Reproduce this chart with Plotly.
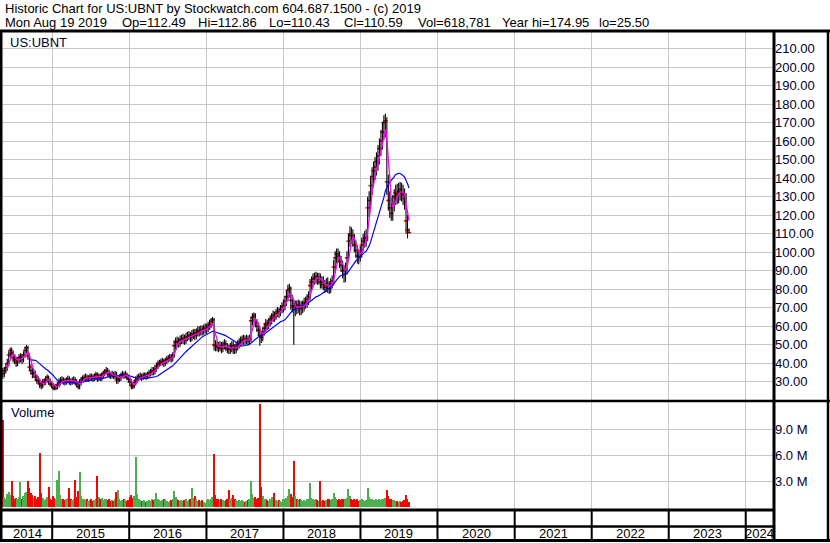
import pandas as pd
import plotly.graph_objects as go

W, H = 830, 543

# weekly bars, Mondays 2014-05-12 .. 2019-08-19
dates = pd.date_range("2014-05-12", "2019-08-19", freq="7D")

close_2014 = [34.5, 36.0, 37.5, 40.0, 44.5, 47.0, 45.5, 43.0, 42.0, 40.5, 41.5, 43.0, 43.5, 42.0, 44.5, 47.0, 48.5,
              44.0, 38.0, 36.0, 34.5, 35.0, 32.5, 31.0, 30.5, 29.0, 28.0, 29.5, 30.0, 31.0, 32.5, 30.5, 29.0, 28.5]
high_2014 = [37.5, 38.0, 40.0, 42.5, 46.5, 48.5, 48.5, 47.0, 45.0, 43.5, 43.5, 45.0, 45.5, 45.0, 46.5, 49.0, 50.0,
             49.5, 45.5, 39.5, 37.5, 37.0, 36.0, 34.0, 33.0, 32.0, 30.5, 31.5, 32.0, 33.0, 34.0, 33.5, 32.0, 30.5]
low_2014 = [31.5, 32.5, 34.5, 36.0, 38.5, 43.0, 43.0, 40.5, 39.5, 38.0, 38.5, 40.0, 40.5, 39.5, 40.5, 43.0, 45.5,
            42.0, 36.0, 34.0, 32.0, 32.5, 30.5, 29.0, 28.5, 26.5, 26.0, 26.5, 28.0, 28.5, 29.5, 28.5, 27.5, 26.5]
vol_2014 = [10.1, 1.2, 0.9, 1.5, 1.8, 1.4, 3.0, 1.3, 1.0, 1.1, 0.9, 1.2, 2.9, 1.0, 1.3, 1.6, 1.8,
            3.0, 2.2, 1.7, 1.4, 1.1, 1.3, 1.0, 1.2, 6.3, 1.6, 1.1, 0.8, 1.0, 1.2, 2.3, 0.9, 0.8]

close_2015 = [27.0, 26.5, 27.5, 28.5, 29.5, 30.5, 31.0, 30.5, 30.0, 31.0, 31.5, 30.5, 30.0, 30.5, 31.0, 30.0, 29.0,
              27.5, 29.5, 31.0, 32.0, 32.0, 32.5, 31.5, 32.0, 33.0, 32.5, 32.0, 33.0, 34.0, 32.0, 33.0, 32.5, 33.5,
              34.5, 35.5, 36.0, 35.0, 34.0, 33.5, 34.0, 33.0, 34.0, 31.0, 31.5, 32.0, 33.5, 34.0, 33.5, 34.0, 32.5, 31.5]
high_2015 = [29.5, 28.5, 29.0, 30.0, 32.0, 32.5, 33.0, 32.5, 32.0, 32.5, 33.5, 33.0, 32.0, 32.5, 33.0, 32.5, 31.5,
             30.5, 31.5, 32.5, 33.5, 34.0, 34.5, 34.0, 33.5, 34.5, 34.5, 34.0, 34.5, 35.5, 35.0, 34.5, 34.5, 35.0,
             36.0, 37.0, 38.0, 37.5, 36.5, 35.5, 36.0, 35.5, 36.0, 35.5, 33.5, 34.0, 35.0, 36.0, 35.5, 36.0, 35.0, 34.0]
low_2015 = [25.5, 25.5, 25.5, 26.0, 27.0, 28.0, 29.0, 28.5, 28.0, 28.5, 29.5, 28.5, 28.0, 28.5, 29.0, 28.0, 27.0,
            26.0, 26.0, 28.0, 29.5, 30.0, 30.5, 30.0, 30.0, 30.5, 30.5, 30.0, 30.5, 31.5, 30.0, 30.5, 30.5, 30.5,
            32.0, 33.0, 34.0, 33.0, 32.0, 31.5, 32.0, 31.5, 31.5, 29.0, 29.0, 30.0, 30.5, 32.0, 31.5, 32.0, 31.0, 29.5]
vol_2015 = [1.3, 1.1, 0.9, 3.2, 4.2, 1.4, 1.0, 0.9, 0.8, 1.0, 1.1, 2.2, 0.9, 0.8, 1.0, 3.1, 1.2,
            1.9, 4.1, 1.3, 1.0, 0.9, 0.8, 0.9, 0.7, 0.8, 0.9, 0.7, 0.8, 1.0, 3.6, 1.2, 0.9, 1.1,
            0.8, 0.9, 1.0, 0.8, 0.9, 0.7, 0.8, 0.7, 0.9, 1.8, 2.0, 0.9, 0.7, 0.8, 0.9, 0.8, 0.7, 0.8]

close_2016 = [30.0, 28.0, 27.5, 29.5, 31.0, 32.0, 32.5, 33.0, 32.5, 33.0, 33.5, 33.0, 34.0, 34.5, 35.0, 36.0, 35.5,
              37.0, 38.5, 39.5, 40.0, 40.5, 41.0, 40.0, 41.5, 42.0, 42.5, 43.0, 42.5, 44.0, 49.5, 51.5, 52.0, 51.0,
              52.5, 53.0, 53.5, 52.5, 54.0, 54.5, 55.0, 54.0, 55.5, 56.0, 55.0, 56.5, 57.5, 57.0, 58.0, 57.5, 58.5, 59.0]
high_2016 = [32.5, 31.5, 30.0, 31.0, 33.0, 34.0, 34.5, 35.0, 34.5, 35.0, 35.0, 35.0, 35.5, 36.5, 37.0, 38.0, 38.0,
             39.0, 40.5, 41.5, 42.0, 42.5, 43.0, 42.5, 43.0, 44.0, 44.5, 45.0, 45.0, 46.0, 52.5, 54.0, 54.5, 54.0,
             55.0, 55.5, 56.0, 55.5, 56.5, 57.0, 57.5, 57.0, 58.0, 58.5, 58.5, 59.0, 60.0, 60.0, 60.5, 60.5, 61.0, 61.5]
low_2016 = [28.0, 26.0, 26.0, 26.5, 28.0, 29.5, 30.5, 31.0, 30.5, 31.0, 31.5, 31.0, 31.5, 32.5, 33.0, 33.5, 33.5,
            34.0, 35.5, 37.0, 38.0, 38.5, 39.0, 38.0, 38.5, 39.5, 40.5, 41.0, 40.5, 41.0, 43.0, 47.5, 49.0, 48.5,
            49.0, 50.5, 50.5, 50.0, 50.5, 52.0, 52.5, 51.5, 52.0, 53.0, 52.5, 53.0, 54.5, 54.5, 55.0, 55.0, 55.5, 56.0]
vol_2016 = [1.2, 1.4, 1.1, 1.3, 5.8, 1.5, 0.9, 0.8, 0.7, 0.7, 0.8, 0.6, 0.7, 0.8, 0.7, 0.9, 0.8,
            1.0, 1.7, 1.0, 0.8, 0.7, 0.8, 0.9, 0.8, 0.7, 0.6, 0.7, 0.8, 0.9, 1.9, 1.2, 0.9, 0.8,
            0.7, 0.8, 0.7, 0.8, 0.9, 0.7, 0.8, 0.9, 2.2, 1.1, 1.3, 0.9, 0.7, 0.8, 0.7, 0.8, 0.6, 0.5]

close_2017 = [59.0, 60.0, 61.0, 62.5, 63.5, 50.0, 49.5, 49.0, 48.5, 49.5, 48.0, 49.5, 50.5, 49.0, 48.0, 47.5, 48.5,
              49.5, 48.0, 47.5, 49.0, 50.0, 51.0, 52.0, 52.5, 53.0, 52.5, 53.0, 52.0, 53.0, 63.0, 65.0, 66.0, 62.0,
              60.0, 58.0, 55.0, 54.0, 57.0, 59.0, 61.5, 60.5, 62.0, 63.5, 64.5, 66.0, 65.0, 67.0, 68.0, 67.0, 69.0, 70.5]
high_2017 = [61.5, 62.5, 63.5, 64.5, 65.0, 64.5, 52.5, 52.0, 51.5, 52.0, 51.5, 52.0, 53.0, 52.5, 51.0, 50.0, 51.0,
             52.0, 52.0, 50.5, 51.5, 52.5, 53.5, 54.5, 55.0, 55.5, 55.0, 55.5, 55.0, 55.5, 65.0, 67.0, 67.5, 67.0,
             64.0, 62.0, 60.0, 57.5, 59.5, 61.5, 64.0, 63.5, 64.5, 66.0, 67.0, 68.5, 68.0, 69.5, 70.5, 70.0, 71.5, 73.0]
low_2017 = [56.0, 57.0, 58.0, 59.0, 60.5, 47.0, 46.5, 46.5, 46.0, 46.5, 45.5, 46.0, 47.5, 46.5, 45.5, 45.0, 45.0,
            46.0, 45.0, 45.0, 45.5, 47.0, 48.0, 49.0, 50.0, 50.0, 50.0, 50.5, 49.5, 50.0, 51.5, 60.5, 62.5, 59.5,
            57.0, 55.0, 49.5, 51.0, 52.0, 55.0, 57.0, 58.0, 58.5, 60.0, 61.0, 62.5, 62.5, 63.5, 65.0, 64.5, 65.5, 67.0]
vol_2017 = [0.8, 0.9, 0.8, 1.0, 1.2, 6.1, 1.4, 1.0, 0.9, 0.8, 0.9, 0.8, 0.7, 0.8, 0.9, 2.0, 1.0,
            1.1, 1.4, 0.9, 0.8, 0.7, 0.8, 0.7, 0.8, 0.7, 0.6, 0.7, 0.8, 0.9, 3.0, 1.5, 1.1, 1.2,
            1.0, 1.1, 11.9, 2.3, 1.3, 1.0, 0.9, 0.8, 0.7, 0.9, 1.2, 0.9, 1.6, 0.8, 0.7, 0.8, 0.7, 0.6]

close_2018 = [71.0, 73.5, 76.0, 79.5, 80.5, 74.0, 71.0, 69.0, 71.0, 70.0, 71.5, 69.5, 70.5, 71.0, 72.5, 73.0, 74.5,
              76.0, 82.0, 84.0, 85.5, 86.0, 87.0, 85.5, 86.5, 84.0, 84.0, 82.5, 81.0, 83.0, 82.0, 80.5, 83.0, 84.5,
              92.0, 97.0, 99.0, 98.0, 95.0, 93.0, 90.0, 88.0, 91.0, 97.0, 106.0, 110.0, 109.0, 107.0, 104.0, 101.0,
              98.0, 97.5, 100.0]
high_2018 = [74.5, 76.5, 79.5, 82.5, 83.0, 81.5, 77.0, 74.5, 74.0, 74.0, 74.5, 74.0, 73.5, 74.0, 75.5, 76.0, 77.5,
             79.0, 85.5, 87.0, 88.5, 89.0, 89.5, 89.0, 89.0, 88.5, 87.0, 87.0, 85.0, 86.0, 86.5, 84.5, 86.0, 87.5,
             96.0, 100.5, 102.0, 102.0, 100.5, 98.0, 95.5, 93.0, 94.5, 100.5, 110.0, 114.0, 113.5, 112.5, 110.0, 106.5,
             104.0, 101.5, 103.5]
low_2018 = [67.5, 68.5, 71.0, 73.5, 75.5, 69.0, 67.5, 50.0, 65.5, 66.5, 67.0, 66.0, 66.0, 67.0, 68.0, 69.5, 70.0,
            71.5, 74.0, 79.0, 81.0, 82.5, 83.0, 82.5, 82.5, 80.5, 80.5, 79.5, 78.0, 78.5, 78.0, 77.5, 78.0, 80.5,
            82.0, 89.0, 94.0, 94.5, 91.5, 89.5, 86.0, 83.5, 84.0, 88.0, 95.0, 103.0, 104.5, 103.0, 100.0, 97.0,
            94.0, 93.5, 95.0]
vol_2018 = [0.9, 1.0, 1.1, 1.3, 2.1, 1.5, 1.2, 5.3, 1.3, 0.9, 0.8, 0.9, 0.8, 0.7, 0.8, 0.7, 0.9,
            1.0, 2.8, 1.1, 0.9, 0.8, 0.9, 0.8, 0.7, 3.0, 0.7, 0.8, 0.7, 0.8, 0.9, 1.0, 0.8, 0.9,
            1.6, 1.2, 0.9, 0.8, 0.9, 0.8, 1.0, 0.9, 1.0, 1.1, 2.1, 1.3, 0.9, 0.8, 0.9, 0.8, 1.0, 0.7, 0.8]

close_2019 = [104.0, 106.0, 107.5, 108.0, 124.0, 128.0, 136.0, 141.0, 144.0, 146.0, 149.0, 152.0, 156.0, 160.0,
              165.0, 170.0, 171.0, 138.0, 128.0, 124.0, 121.0, 126.0, 130.0, 132.0, 131.0, 133.0, 134.0, 132.0,
              131.0, 129.0, 117.0, 112.0, 110.59]
high_2019 = [108.0, 110.0, 111.5, 112.5, 130.0, 133.0, 141.0, 146.0, 149.0, 151.5, 154.0, 158.0, 161.5, 166.0,
             170.5, 174.0, 174.95, 173.0, 142.0, 133.0, 129.5, 131.0, 134.0, 136.5, 137.0, 137.5, 138.0, 137.5,
             136.5, 134.5, 132.0, 120.5, 112.86]
low_2019 = [97.0, 100.5, 102.5, 103.0, 106.0, 119.0, 124.0, 131.0, 136.0, 139.0, 141.5, 144.0, 147.5, 152.0,
            155.5, 160.5, 162.0, 131.0, 122.5, 118.5, 117.0, 117.0, 122.0, 125.5, 126.0, 126.5, 128.0, 127.5,
            125.5, 123.0, 110.0, 107.5, 110.43]
vol_2019 = [0.9, 0.8, 0.7, 0.8, 2.2, 1.2, 1.0, 0.9, 0.8, 0.8, 0.9, 0.8, 0.9, 0.8,
            0.9, 1.0, 1.1, 2.0, 1.3, 1.0, 0.9, 0.8, 0.8, 0.7, 0.7, 0.6, 0.7, 0.6,
            0.7, 0.8, 1.4, 0.9, 0.62]

price_ticks = [30, 40, 50, 60, 70, 80, 90, 100, 110, 120, 130, 140, 150, 160, 170, 180, 190, 200, 210]
price_labels = ["30.00", "40.00", "50.00", "60.00", "70.00", "80.00", "90.00", "100.00", "110.00", "120.00",
                "130.00", "140.00", "150.00", "160.00", "170.00", "180.00", "190.00", "200.00", "210.00"]
vol_ticks = [3e6, 6e6, 9e6]
vol_labels = ["3.0 M", "6.0 M", "9.0 M"]
years = list(range(2014, 2025))

header1 = "Historic Chart for US:UBNT by Stockwatch.com 604.687.1500 - (c) 2019"
header2 = [(3, "Mon Aug 19 2019"), (120, "Op=112.49"), (196, "Hi=112.86"), (267, "Lo=110.43"),
           (342, "Cl=110.59"), (416, "Vol=618,781"), (500, "Year hi=174.95"), (597, "lo=25.50")]

close = pd.Series(close_2014 + close_2015 + close_2016 + close_2017 + close_2018 + close_2019, index=dates)
high = high_2014 + high_2015 + high_2016 + high_2017 + high_2018 + high_2019
low = low_2014 + low_2015 + low_2016 + low_2017 + low_2018 + low_2019
vol = [v * 1e6 for v in vol_2014 + vol_2015 + vol_2016 + vol_2017 + vol_2018 + vol_2019]
assert len(close) == len(high) == len(low) == len(vol) == len(dates)

ma_short = close.rolling(4).mean()
ma_long = close.rolling(20).mean()
up = [False] + list(close.values[1:] >= close.values[:-1])
vol_colors = ["#4CAF50" if u else "#FF0000" for u in up]

FONT = "Liberation Sans, Arial, sans-serif"
GRID = "#C8C8C8"
X0, X1 = "2014-05-08", "2024-05-14"


def px(p):
    return p / W


def py(p):
    return 1 - p / H


bx, by = [], []
for d, lo, hi in zip(dates, low, high):
    bx += [d, d, None]
    by += [lo, hi, None]

fig = go.Figure()
# red close ticks peek out from under the black bars
fig.add_trace(go.Scatter(x=dates, y=close, mode="markers",
                         marker=dict(symbol="line-ew", size=3, color="#FF0000",
                                     line=dict(width=1.5, color="#FF0000")),
                         xaxis="x", yaxis="y"))
fig.add_trace(go.Scatter(x=bx, y=by, mode="lines", line=dict(color="black", width=1.1),
                         hoverinfo="skip", xaxis="x", yaxis="y"))
fig.add_trace(go.Scatter(x=dates, y=ma_long, mode="lines", line=dict(color="#0000FF", width=1.2),
                         xaxis="x", yaxis="y"))
fig.add_trace(go.Scatter(x=dates, y=ma_short, mode="lines", line=dict(color="#FF00FF", width=1.3),
                         xaxis="x", yaxis="y"))
fig.add_trace(go.Bar(x=dates, y=vol, marker=dict(color=vol_colors, line=dict(width=0)),
                     width=6 * 86400000, xaxis="x2", yaxis="y2"))

axis_x = dict(type="date", range=[X0, X1], domain=[px(2), px(774)], showgrid=True, gridcolor=GRID,
              gridwidth=1, tick0="2015-01-01", dtick="M12", showticklabels=False, ticks="",
              zeroline=False, showline=False)
fig.update_layout(
    width=W, height=H, margin=dict(l=0, r=0, t=0, b=0),
    paper_bgcolor="white", plot_bgcolor="white", showlegend=False, bargap=0,
    font=dict(family=FONT, size=13, color="black"),
    xaxis=dict(axis_x, anchor="y"),
    xaxis2=dict(axis_x, anchor="y2", matches="x"),
    yaxis=dict(domain=[py(400), py(32)], range=[20.2, 219.0], side="right", anchor="x",
               tickmode="array", tickvals=price_ticks, ticktext=price_labels,
               gridcolor=GRID, gridwidth=1, zeroline=False, showline=False, ticks="",
               tickfont=dict(family=FONT, size=13, color="#000033")),
    yaxis2=dict(domain=[py(509), py(402)], range=[-0.2e6, 12.15e6], side="right", anchor="x2",
                tickmode="array", tickvals=vol_ticks, ticktext=vol_labels,
                gridcolor=GRID, gridwidth=1, zeroline=False, showline=False, ticks="",
                tickfont=dict(family=FONT, size=13, color="#000033")),
)

shapes = []


def hline(y, x0, x1, w):
    shapes.append(dict(type="line", xref="paper", yref="paper", x0=px(x0), x1=px(x1), y0=py(y), y1=py(y),
                       line=dict(color="black", width=w)))


def vline(x, y0, y1, w):
    shapes.append(dict(type="line", xref="paper", yref="paper", x0=px(x), x1=px(x), y0=py(y0), y1=py(y1),
                       line=dict(color="black", width=w)))


hline(31, 0, W, 3)
hline(401, 0, W, 2.5)
hline(510, 0, 774, 3)
hline(526.5, 0, 774, 2.5)
hline(540.5, 0, W, 3)
vline(1, 31, 541, 3)
vline(774, 31, 541, 3)
vline(828, 31, 541, 2.5)
for yr in years[1:]:
    shapes.append(dict(type="line", xref="x", yref="paper", x0=f"{yr}-01-01", x1=f"{yr}-01-01",
                       y0=py(510), y1=py(541), line=dict(color="black", width=2)))

ann = [dict(text=header1, x=px(3), y=py(9), xref="paper", yref="paper", xanchor="left", yanchor="middle",
            showarrow=False, font=dict(size=13, color="black"))]
for xp, t in header2:
    ann.append(dict(text=t, x=px(xp), y=py(22), xref="paper", yref="paper", xanchor="left",
                    yanchor="middle", showarrow=False, font=dict(size=13, color="black")))
ann.append(dict(text="US:UBNT", x=px(8), y=py(42), xref="paper", yref="paper", xanchor="left",
                yanchor="middle", showarrow=False, font=dict(size=13, color="#000033")))
ann.append(dict(text="Volume", x=px(9), y=py(413), xref="paper", yref="paper", xanchor="left",
                yanchor="middle", showarrow=False, font=dict(size=13, color="#000033")))

lo_lim, hi_lim = pd.Timestamp(X0), pd.Timestamp(X1)
for yr in years:
    a = max(pd.Timestamp(f"{yr}-01-01"), lo_lim)
    b = min(pd.Timestamp(f"{yr + 1}-01-01"), hi_lim)
    ann.append(dict(text=str(yr), x=a + (b - a) / 2, y=py(533.5), xref="x", yref="paper",
                    xanchor="center", yanchor="middle", showarrow=False,
                    font=dict(size=13, color="black")))

fig.update_layout(shapes=shapes, annotations=ann)
# the page body's default 8px margin would shift the fixed-size figure
fig.write_html("out.html", config={"displayModeBar": False},
               post_script="document.body.style.margin='0';")
